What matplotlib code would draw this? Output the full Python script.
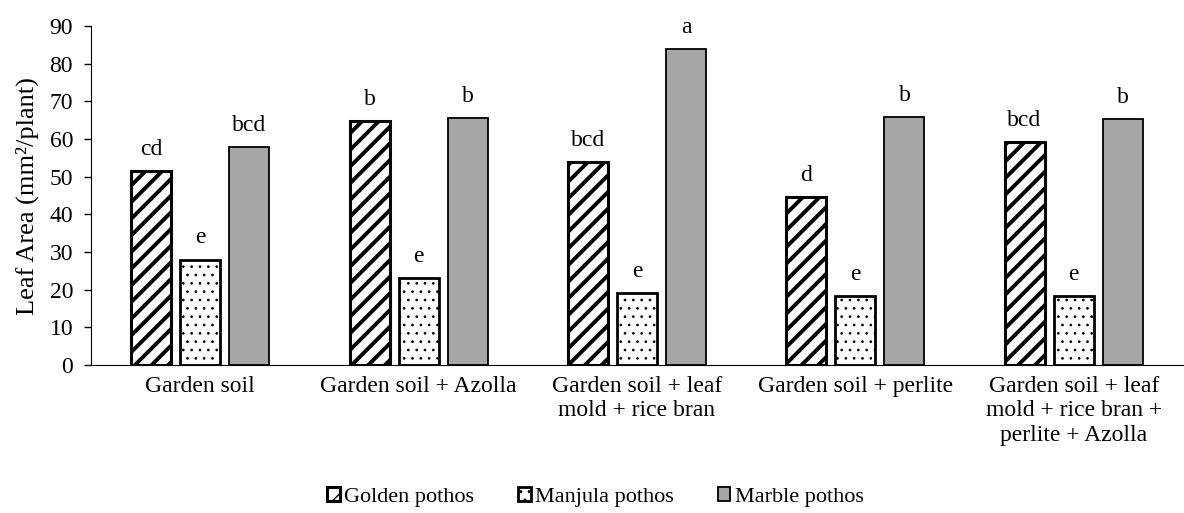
import matplotlib
matplotlib.use("Agg")
import matplotlib.pyplot as plt
import numpy as np

plt.rcParams['font.family'] = ['Liberation Serif', 'DejaVu Serif']

# treatments on the x axis
categories = ["Garden soil",
              "Garden soil + Azolla",
              "Garden soil + leaf\nmold + rice bran",
              "Garden soil + perlite",
              "Garden soil + leaf\nmold + rice bran +\nperlite + Azolla"]

# leaf area per variety
golden = [51.5, 64.8, 53.8, 44.6, 59.3]
manjula = [28.0, 23.2, 19.1, 18.3, 18.3]
marble = [57.8, 65.6, 83.9, 65.8, 65.3]

# significance letters
golden_letters = ["cd", "b", "bcd", "d", "bcd"]
manjula_letters = ["e", "e", "e", "e", "e"]
marble_letters = ["bcd", "b", "a", "b", "b"]

fig = plt.figure(figsize=(11.84, 5.13), dpi=100)
ax = fig.add_axes([0.077, 0.2885, 0.922, 0.6605])

x = np.arange(len(categories))
w = 0.183
step = 0.225

# values, letters, name, fill, hatch, hatch width, edge width
series = [
    (golden, golden_letters, "Golden pothos", "white", "//", 2.8, 2.2),
    (manjula, manjula_letters, "Manjula pothos", "white", "..", 0.7, 2.0),
    (marble, marble_letters, "Marble pothos", "#a6a6a6", None, 1.0, 1.3),
]

for i, (vals, letters, name, color, hatch, hlw, elw) in enumerate(series):
    pos = x + (i - 1) * step
    with plt.rc_context({'hatch.linewidth': hlw}):
        bars = ax.bar(pos, vals, w, color=color, edgecolor="black",
                      linewidth=elw, hatch=hatch, label=name)
    for b, lab in zip(bars, letters):
        ax.annotate(lab, (b.get_x() + b.get_width() / 2, b.get_height()),
                    xytext=(0, 8), textcoords="offset points",
                    ha="center", va="bottom", fontsize=17)

ax.set_xlim(-0.5, 4.5)
ax.set_ylim(0, 90)
ax.set_yticks(range(0, 91, 10))
ax.set_xticks(x)
ax.set_xticklabels(categories, fontsize=17, linespacing=1.2)
ax.tick_params(axis="x", length=0, pad=8)
ax.tick_params(axis="y", labelsize=17, length=5, width=1, pad=8)
ax.spines["top"].set_visible(False)
ax.spines["right"].set_visible(False)
ax.set_ylabel("Leaf Area (mm²/plant)", fontsize=19)
ax.yaxis.set_label_coords(-0.048, 0.5)

fig.legend(loc="center", bbox_to_anchor=(0.503, 0.031), ncol=3,
           frameon=False, fontsize=16, handlelength=0.55, handleheight=0.55,
           columnspacing=2.0, handletextpad=0.2)

fig.savefig("out.png", dpi=100)
